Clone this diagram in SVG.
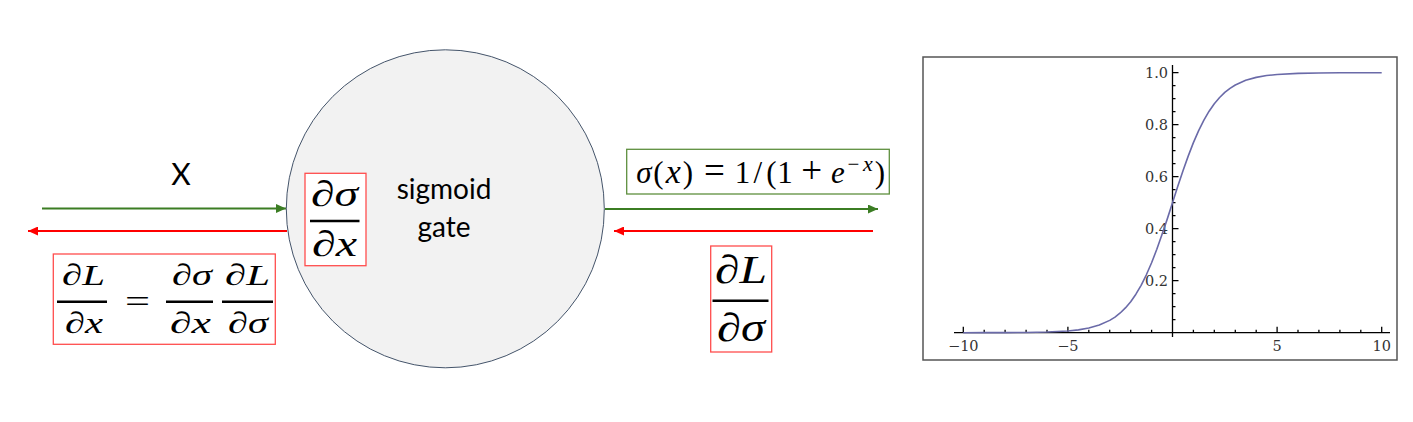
<svg xmlns="http://www.w3.org/2000/svg" width="1413" height="422" viewBox="0 0 1413 422">
<style>
.m{font-family:"Liberation Serif","DejaVu Serif",serif;font-style:italic;fill:#000}
.u{font-style:normal}
.lbl{font-family:Lato,"Open Sans",sans-serif;fill:#000}
.bar{stroke:#000;stroke-width:2.4}
.rbox{fill:#fff;stroke:#ff4d4d;stroke-width:1.3}
.gbox{fill:#fff;stroke:#5e8f3e;stroke-width:1.3}
.tk{font-family:"DejaVu Serif","Liberation Serif",serif;font-size:14.5px;fill:#333}
</style>
<defs>
<marker id="ag" markerUnits="userSpaceOnUse" markerWidth="11" markerHeight="9" refX="10" refY="4.5" orient="auto"><path d="M0,0 L10,4.5 L0,9 z" fill="#3b7d23"/></marker>
<marker id="ar" markerUnits="userSpaceOnUse" markerWidth="11" markerHeight="9" refX="10" refY="4.5" orient="auto"><path d="M0,0 L10,4.5 L0,9 z" fill="#ff0000"/></marker>
</defs>
<rect width="1413" height="422" fill="#fff"/>

<g id="connectors" stroke-width="2" fill="none">
<line x1="42" y1="208.5" x2="286" y2="208.5" stroke="#3b7d23" marker-end="url(#ag)"/>
<line x1="287" y1="231" x2="28" y2="231" stroke="#ff0000" marker-end="url(#ar)"/>
<line x1="605" y1="209" x2="878" y2="209" stroke="#3b7d23" marker-end="url(#ag)"/>
<line x1="873" y1="231" x2="614" y2="231" stroke="#ff0000" marker-end="url(#ar)"/>
</g>

<g id="label-x">
<text class="lbl" x="181" y="185" font-size="30" text-anchor="middle">X</text>
</g>

<g id="sigmoid-gate">
<circle cx="445.3" cy="208.8" r="159" fill="#f2f2f2" stroke="#44546a" stroke-width="1"/>
<text class="lbl" x="444" y="199" font-size="28" text-anchor="middle">sigmoid</text>
<text class="lbl" x="444" y="237" font-size="28" text-anchor="middle">gate</text>
</g>

<g id="local-grad">
<rect class="rbox" x="305" y="173.3" width="61" height="92.4"/>
<text class="m" x="311" y="206" font-size="36" textLength="47" lengthAdjust="spacingAndGlyphs">∂σ</text>
<line class="bar" x1="310" y1="221" x2="359.5" y2="221"/>
<text class="m" x="312" y="256" font-size="36" textLength="45" lengthAdjust="spacingAndGlyphs">∂x</text>
</g>

<g id="chain-rule">
<rect class="rbox" x="53.3" y="254" width="222" height="90.3"/>
<text class="m" x="62" y="285" font-size="30" textLength="43" lengthAdjust="spacingAndGlyphs">∂L</text>
<line class="bar" x1="57" y1="301.7" x2="107" y2="301.7"/>
<text class="m" x="65" y="333" font-size="30" textLength="38" lengthAdjust="spacingAndGlyphs">∂x</text>
<text class="m u" x="125" y="312" font-size="32" textLength="25" lengthAdjust="spacingAndGlyphs">=</text>
<text class="m" x="172" y="285" font-size="30" textLength="40" lengthAdjust="spacingAndGlyphs">∂σ</text>
<line class="bar" x1="166" y1="301.7" x2="213" y2="301.7"/>
<text class="m" x="170" y="333" font-size="30" textLength="41" lengthAdjust="spacingAndGlyphs">∂x</text>
<text class="m" x="225" y="285" font-size="30" textLength="45" lengthAdjust="spacingAndGlyphs">∂L</text>
<line class="bar" x1="222" y1="301.7" x2="273" y2="301.7"/>
<text class="m" x="228" y="333" font-size="30" textLength="40" lengthAdjust="spacingAndGlyphs">∂σ</text>
</g>

<g id="forward-formula">
<rect class="gbox" x="626.7" y="149.3" width="262.6" height="44.7"/>
<text class="m" y="183" font-size="31" text-anchor="middle"><tspan x="643.8">σ</tspan><tspan class="u" x="658.5">(</tspan><tspan x="673.2" font-size="34">x</tspan><tspan class="u" x="688">)</tspan><tspan class="u" x="714.4" font-size="37">=</tspan><tspan class="u" x="742.5">1</tspan><tspan class="u" x="757.9">/</tspan><tspan class="u" x="771.5">(</tspan><tspan class="u" x="785.1">1</tspan><tspan class="u" x="811.6" font-size="37">+</tspan><tspan x="838">e</tspan><tspan class="u" x="853.5" y="171" font-size="21">−</tspan><tspan x="868" y="171" font-size="22">x</tspan><tspan class="u" x="880" y="183">)</tspan></text>
</g>

<g id="upstream-grad">
<rect class="rbox" x="710.7" y="246" width="61" height="106"/>
<text class="m" x="715" y="283" font-size="40" textLength="52" lengthAdjust="spacingAndGlyphs">∂L</text>
<line class="bar" x1="712.5" y1="300.7" x2="768.5" y2="300.7"/>
<text class="m" x="717" y="341" font-size="40" textLength="48" lengthAdjust="spacingAndGlyphs">∂σ</text>
</g>

<g id="plot">
<rect x="923" y="57" width="474" height="303" fill="#fff" stroke="#555" stroke-width="1.5"/>
<g stroke="#000" stroke-width="1.3">
<line x1="954" y1="332.7" x2="1390" y2="332.7"/>
<line x1="1172.5" y1="65" x2="1172.5" y2="337"/>
<path d="M963.3,326.7V332.7M984.2,329.7V332.7M1005.1,329.7V332.7M1026.1,329.7V332.7M1047,329.7V332.7M1067.9,326.7V332.7M1088.8,329.7V332.7M1109.7,329.7V332.7M1130.7,329.7V332.7M1151.6,329.7V332.7M1193.4,329.7V332.7M1214.3,329.7V332.7M1235.3,329.7V332.7M1256.2,329.7V332.7M1277.1,326.7V332.7M1298,329.7V332.7M1318.9,329.7V332.7M1339.9,329.7V332.7M1360.8,329.7V332.7M1381.7,326.7V332.7"/>
<path d="M1172.5,319.7h3M1172.5,306.7h3M1172.5,293.7h3M1172.5,280.7h6M1172.5,267.7h3M1172.5,254.7h3M1172.5,241.7h3M1172.5,228.7h6M1172.5,215.7h3M1172.5,202.7h3M1172.5,189.7h3M1172.5,176.7h6M1172.5,163.7h3M1172.5,150.7h3M1172.5,137.7h3M1172.5,124.7h6M1172.5,111.7h3M1172.5,98.7h3M1172.5,85.7h3M1172.5,72.7h6"/>
</g>
<g class="tk" text-anchor="end">
<text x="1168" y="77.5">1.0</text>
<text x="1168" y="129.5">0.8</text>
<text x="1168" y="181.5">0.6</text>
<text x="1168" y="233.5">0.4</text>
<text x="1168" y="285.5">0.2</text>
</g>
<g class="tk" text-anchor="middle">
<text x="963.3" y="351">−10</text>
<text x="1067.9" y="351">−5</text>
<text x="1277.1" y="351">5</text>
<text x="1381.7" y="351">10</text>
</g>
<polyline fill="none" stroke="#6a6aa8" stroke-width="1.6" stroke-linejoin="round" points="963.3,332.69 984.2,332.67 1005.1,332.61 1026.1,332.46 1047,332.06 1067.9,330.96 1078.4,329.84 1088.8,328.02 1099.3,325.08 1109.7,320.37 1115,317.08 1120.2,312.98 1125.4,307.91 1130.7,301.71 1135.9,294.21 1141.1,285.28 1146.35,274.8 1151.6,262.79 1156.8,249.29 1162,234.55 1167.3,218.87 1172.5,202.7 1177.7,186.53 1183,170.85 1188.2,156.11 1193.4,142.61 1198.65,130.6 1203.9,120.12 1209.1,111.19 1214.3,103.69 1219.6,97.49 1224.8,92.42 1230,88.32 1235.3,85.03 1245.7,80.32 1256.2,77.38 1266.6,75.56 1277.1,74.44 1298,73.34 1318.9,72.94 1339.9,72.79 1360.8,72.73 1381.7,72.71"/>
</g>
</svg>
